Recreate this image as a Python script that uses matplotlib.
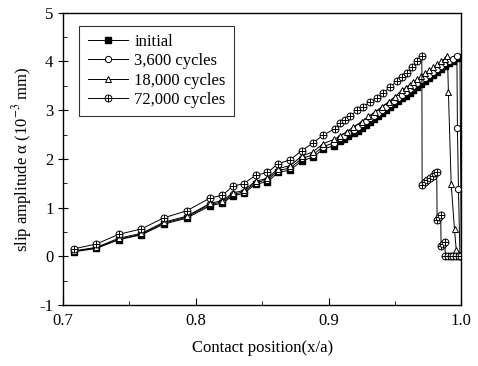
import matplotlib
matplotlib.use('Agg')
import matplotlib.pyplot as plt
from matplotlib.path import Path
from matplotlib.ticker import MultipleLocator

plt.rcParams['font.family'] = ['Liberation Serif', 'DejaVu Serif']
plt.rcParams['mathtext.fontset'] = 'stix'
plt.rcParams['axes.unicode_minus'] = False

# initial
init_x = [0.708, 0.725, 0.742, 0.759, 0.776, 0.793, 0.811, 0.820, 0.828, 0.836,
          0.845, 0.854, 0.862, 0.871, 0.880, 0.888, 0.896, 0.904, 0.909, 0.912,
          0.915, 0.919, 0.922, 0.925, 0.928, 0.931, 0.934, 0.937, 0.940, 0.943,
          0.946, 0.949, 0.952, 0.955, 0.958, 0.961, 0.964, 0.967, 0.970, 0.973,
          0.976, 0.979, 0.982, 0.985, 0.988, 0.991, 0.994, 0.997, 0.999, 1.000]
init_y = [0.09, 0.16, 0.34, 0.44, 0.66, 0.78, 1.04, 1.09, 1.24, 1.29,
          1.48, 1.53, 1.72, 1.77, 1.96, 2.03, 2.20, 2.27, 2.36, 2.41,
          2.46, 2.53, 2.58, 2.64, 2.70, 2.76, 2.82, 2.88, 2.94, 3.00,
          3.06, 3.12, 3.18, 3.24, 3.30, 3.36, 3.42, 3.48, 3.54, 3.60,
          3.66, 3.72, 3.78, 3.84, 3.90, 3.96, 4.02, 4.07, 4.10, 0.0]

# 3,600 cycles
c36_x = [0.708, 0.725, 0.742, 0.759, 0.776, 0.793, 0.811, 0.820, 0.828, 0.836,
         0.845, 0.854, 0.862, 0.871, 0.880, 0.888, 0.896, 0.904, 0.909, 0.912,
         0.915, 0.919, 0.922, 0.925, 0.928, 0.931, 0.934, 0.937, 0.940, 0.943,
         0.946, 0.949, 0.952, 0.955, 0.958, 0.961, 0.964, 0.967, 0.970, 0.973,
         0.976, 0.979, 0.982, 0.985, 0.988, 0.991, 0.994, 0.9967, 0.9971, 0.9979,
         0.999, 1.000]
c36_y = [0.10, 0.17, 0.35, 0.45, 0.68, 0.80, 1.07, 1.11, 1.27, 1.32,
         1.51, 1.57, 1.76, 1.81, 2.01, 2.08, 2.25, 2.33, 2.42, 2.47,
         2.53, 2.60, 2.65, 2.71, 2.77, 2.83, 2.89, 2.95, 3.01, 3.07,
         3.13, 3.19, 3.25, 3.31, 3.37, 3.43, 3.49, 3.55, 3.61, 3.67,
         3.73, 3.79, 3.85, 3.91, 3.96, 4.01, 4.06, 4.11, 2.63, 1.38,
         0.0, 0.0]

# 18,000 cycles
c18_x = [0.708, 0.725, 0.742, 0.759, 0.776, 0.793, 0.811, 0.820, 0.828, 0.836,
         0.845, 0.854, 0.862, 0.871, 0.880, 0.888, 0.896, 0.904, 0.9087, 0.9138,
         0.9188, 0.9251, 0.9301, 0.9351, 0.9402, 0.9452, 0.9502, 0.9552, 0.958, 0.961,
         0.964, 0.967, 0.970, 0.973, 0.976, 0.979, 0.982, 0.985, 0.9875, 0.9896,
         0.9903, 0.9924, 0.9949, 0.9962, 0.997, 0.9985, 1.000]
c18_y = [0.11, 0.18, 0.37, 0.47, 0.70, 0.82, 1.09, 1.14, 1.30, 1.35,
         1.54, 1.60, 1.80, 1.86, 2.06, 2.14, 2.31, 2.40, 2.46, 2.56,
         2.66, 2.76, 2.87, 2.97, 3.07, 3.17, 3.28, 3.41, 3.46, 3.52,
         3.58, 3.64, 3.70, 3.76, 3.82, 3.88, 3.94, 4.00, 4.06, 4.12,
         3.38, 1.48, 0.55, 0.13, 0.0, 0.0, 0.0]

# 72,000 cycles
c72_x = [0.708, 0.725, 0.742, 0.759, 0.776, 0.793, 0.811, 0.820, 0.828, 0.836,
         0.845, 0.854, 0.862, 0.871, 0.880, 0.888, 0.896, 0.905, 0.9087, 0.9125,
         0.9163, 0.9213, 0.9263, 0.9314, 0.9364, 0.9414, 0.9464, 0.9515, 0.9552, 0.959,
         0.9628, 0.9665, 0.9703, 0.9705, 0.9725, 0.9745, 0.9765, 0.9785, 0.980, 0.9815,
         0.9818, 0.9832, 0.9845, 0.9848, 0.9862, 0.9876, 0.988, 0.990, 0.992, 0.994,
         0.996, 0.998, 1.000]
c72_y = [0.15, 0.25, 0.45, 0.56, 0.79, 0.93, 1.20, 1.25, 1.44, 1.49,
         1.66, 1.72, 1.90, 1.98, 2.17, 2.32, 2.49, 2.62, 2.73, 2.80,
         2.87, 3.00, 3.07, 3.17, 3.24, 3.35, 3.48, 3.59, 3.69, 3.76,
         3.89, 4.00, 4.12, 1.47, 1.52, 1.57, 1.61, 1.65, 1.70, 1.74,
         0.75, 0.80, 0.85, 0.20, 0.25, 0.30, 0.0, 0.0, 0.0, 0.0,
         0.0, 0.0, 0.0]

# circle with a cross, for the 72,000 cycles marker
circ = Path.unit_circle()
cross = Path([[-1, 0], [1, 0], [0, -1], [0, 1]],
             [Path.MOVETO, Path.LINETO, Path.MOVETO, Path.LINETO])
oplus = Path.make_compound_path(circ, cross)

fig = plt.figure(figsize=(4.78, 3.66), dpi=100)
ax = fig.add_axes([0.132, 0.167, 0.833, 0.798])

lw = 0.7
ax.plot(init_x, init_y, '-', color='black', lw=lw, marker='s', ms=4.3,
        mfc='black', mec='black', label='initial')
ax.plot(c36_x, c36_y, '-', color='black', lw=lw, marker='o', ms=4.5,
        mfc='white', mec='black', mew=0.7, label='3,600 cycles')
ax.plot(c18_x, c18_y, '-', color='black', lw=lw, marker='^', ms=5,
        mfc='white', mec='black', mew=0.7, label='18,000 cycles')
ax.plot(c72_x, c72_y, '-', color='black', lw=lw, marker=oplus, ms=5,
        mfc='white', mec='black', mew=0.7, label='72,000 cycles')

ax.set_xlim(0.7, 1.0)
ax.set_ylim(-1, 5)
ax.set_xticks([0.7, 0.8, 0.9, 1.0])
ax.set_xticklabels(['0.7', '0.8', '0.9', '1.0'])
ax.xaxis.set_minor_locator(MultipleLocator(0.05))
ax.yaxis.set_major_locator(MultipleLocator(1))
ax.yaxis.set_minor_locator(MultipleLocator(0.5))
ax.tick_params(axis='x', which='major', direction='in', length=5, labelsize=12, pad=6)
ax.tick_params(axis='x', which='minor', direction='in', length=3)
ax.tick_params(axis='y', which='major', direction='inout', length=7, labelsize=12)
ax.tick_params(axis='y', which='minor', direction='in', length=3)
for sp in ax.spines.values():
    sp.set_linewidth(1.0)

ax.set_xlabel('Contact position(x/a)', fontsize=12, labelpad=8)
ax.set_ylabel('slip amplitude α (10$^{-3}$ mm)', fontsize=12, labelpad=4)

leg = ax.legend(loc='upper left', fontsize=12, frameon=True, fancybox=False,
                edgecolor='black', handlelength=2.4, handletextpad=0.4,
                borderpad=0.5, labelspacing=0.2, bbox_to_anchor=(0.02, 0.985))
leg.get_frame().set_linewidth(0.8)

fig.savefig('out.png', dpi=100)
